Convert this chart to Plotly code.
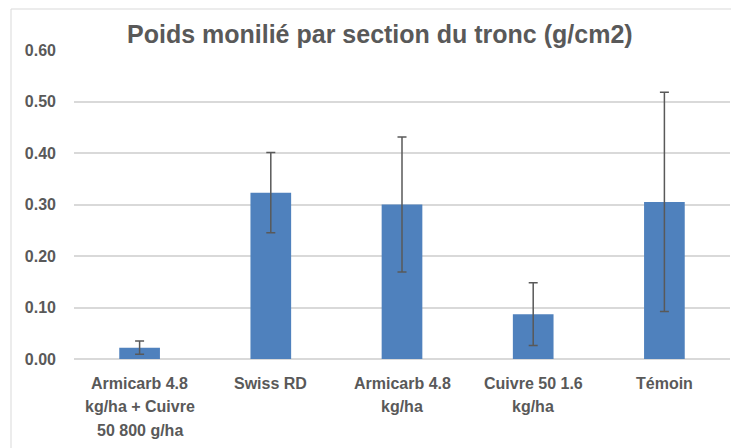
import plotly.graph_objects as go

categories = ["Armicarb 4.8<br>kg/ha + Cuivre<br>50 800 g/ha", "Swiss RD", "Armicarb 4.8<br>kg/ha",
              "Cuivre 50 1.6<br>kg/ha", "Témoin"]
values = [0.022, 0.323, 0.300, 0.087, 0.305]
errors = [0.013, 0.078, 0.131, 0.061, 0.213]
yticks = [0.0, 0.1, 0.2, 0.3, 0.4, 0.5, 0.6]
title = "Poids monilié par section du tronc (g/cm2)"

GRAY = "#595959"
FONT = "Liberation Sans"

# page has an 8px body margin; plot area wanted at page x 74..730, y 50..359
L, R, T, B = 66, 17, 42, 97
W, H = 739, 448
PW, PH = W - L - R, H - T - B

fig = go.Figure()
fig.add_trace(go.Bar(
    x=list(range(len(categories))), y=values,
    marker=dict(color="#4f81bd", line=dict(width=0)),
    error_y=dict(type="data", array=errors, visible=True, color=GRAY, thickness=1.5, width=4.5),
    width=0.31,
))

annotations = []
for i, lab in enumerate(categories):
    for j, line in enumerate(lab.split("<br>")):
        annotations.append(dict(
            x=i, xref="x", y=0, yref="y", yshift=-24 - 23.5 * j, text=line, showarrow=False,
            xanchor="center", yanchor="middle",
            font=dict(family=FONT, size=16, color=GRAY, weight="bold"),
        ))
annotations.append(dict(
    x=(380 - 8 - L) / PW, xref="paper", y=1 + (50 - 34) / PH, yref="paper",
    text="<b>" + title + "</b>", showarrow=False,
    xanchor="center", yanchor="middle", font=dict(family=FONT, size=25, color=GRAY)))

fig.update_layout(
    width=W, height=H,
    margin=dict(l=L, r=R, t=T, b=B),
    paper_bgcolor="white", plot_bgcolor="white",
    showlegend=False,
    annotations=annotations,
    xaxis=dict(range=[-0.5, 4.5], showticklabels=False, showgrid=False, zeroline=False, showline=False),
    yaxis=dict(range=[0, 0.6], tickvals=yticks, tickformat=".2f", showgrid=True, gridcolor="#d9d9d9",
               gridwidth=1.5, zeroline=True, zerolinecolor="#d9d9d9", zerolinewidth=1.5,
               tickfont=dict(family=FONT, size=16, color=GRAY, weight="bold"), ticklabelstandoff=17),
    shapes=[dict(type="rect", xref="paper", yref="paper",
                 x0=-(74 - 11) / PW, x1=1 + 20 / PW, y0=-120 / PH, y1=1 + (50 - 9) / PH,
                 line=dict(color="#d9d9d9", width=1), fillcolor="rgba(0,0,0,0)", layer="below")],
)

fig.write_html("out.html")
